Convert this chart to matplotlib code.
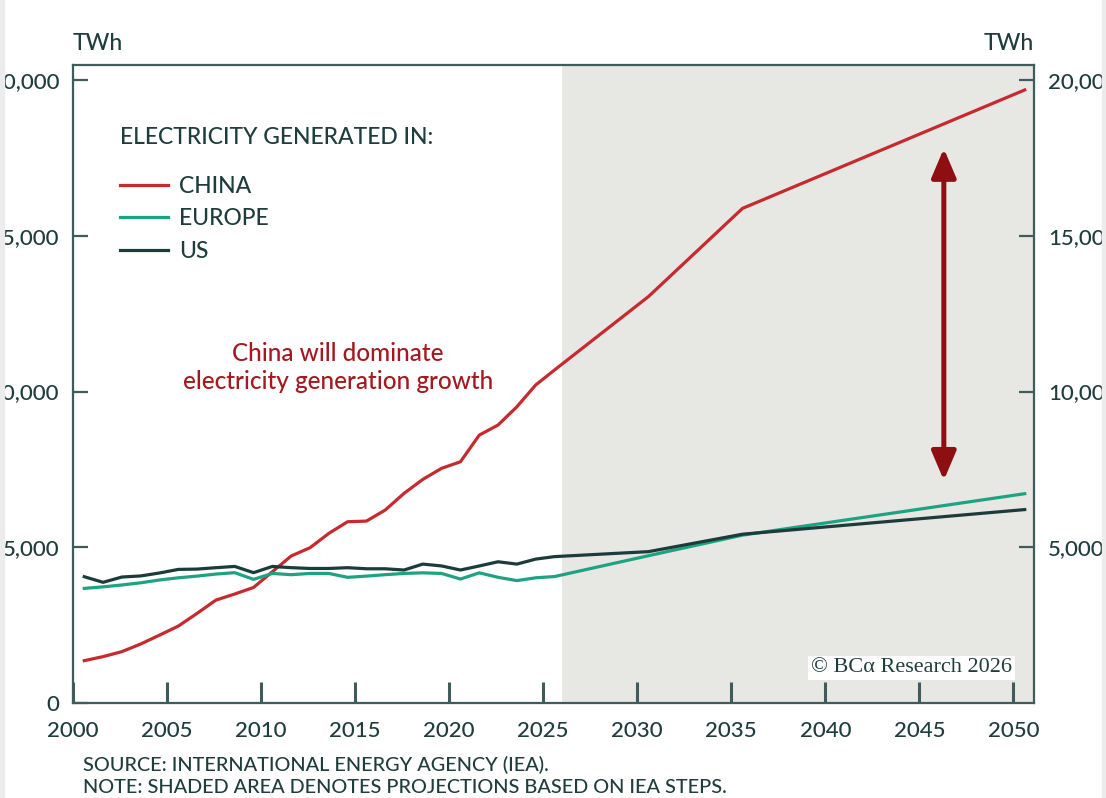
import matplotlib
matplotlib.use("Agg")
from matplotlib import pyplot as plt
from matplotlib.patches import Rectangle
from numpy import array

# %%
# electricity generation, TWh (history to 2025, IEA STEPS projections after)
years = [2000, 2001, 2002, 2003, 2004, 2005, 2006, 2007, 2008, 2009,
         2010, 2011, 2012, 2013, 2014, 2015, 2016, 2017, 2018, 2019,
         2020, 2021, 2022, 2023, 2024, 2025, 2030, 2035, 2050]
china = [1360, 1490, 1650, 1895, 2180, 2470, 2880, 3305, 3500, 3710,
         4215, 4720, 4985, 5445, 5820, 5840, 6195, 6730, 7180, 7535,
         7745, 8600, 8925, 9510, 10210, 10690, 13050, 15880, 19680]
europe = [3680, 3730, 3790, 3860, 3950, 4020, 4075, 4140, 4185, 3970,
          4160, 4120, 4160, 4160, 4035, 4075, 4120, 4160, 4180, 4160,
          3980, 4180, 4035, 3930, 4020, 4060, 4730, 5390, 6720]
us = [4055, 3875, 4045, 4080, 4175, 4290, 4300, 4345, 4385, 4185,
      4385, 4345, 4320, 4320, 4345, 4310, 4310, 4270, 4460, 4400,
      4270, 4400, 4535, 4460, 4620, 4700, 4860, 5420, 6210]

projection_start = 2026
gap_year = 2046.3
gap_low, gap_high = 7150, 17800

x_ticks = list(range(2000, 2051, 5))
y_ticks = [0, 5000, 10000, 15000, 20000]
y_labels = ["0", "5,000", "10,000", "15,000", "20,000"]
y_ticks_right = [5000, 10000, 15000, 20000]
y_labels_right = ["5,000", "10,000", "15,000", "20,000"]

RED = "#c62a2f"
GREEN = "#1ea382"
DARK = "#1c3b3b"
TEXT = "#1f3d3d"
SPINE = "#3f5b5b"
SHADE = "#e7e7e4"
MAROON = "#8e0f12"

plt.rcParams["font.family"] = ["Lato", "DejaVu Sans"]
plt.rcParams["font.weight"] = 500

# %%
fig = plt.figure(figsize=(11.06, 7.98), dpi=100)
ax = fig.add_axes([0.066, 0.119, 0.869, 0.7995])

x = array(years) + 0.6
ax.axvspan(projection_start, 2052, color=SHADE, lw=0, zorder=0)
ax.plot(x, china, color=RED, lw=2.3, label="CHINA")
ax.plot(x, europe, color=GREEN, lw=2.3, label="EUROPE")
ax.plot(x, us, color=DARK, lw=2.3, label="US")

ax.set_xlim(2000, 2051.1)
ax.set_ylim(0, 20480)
ax.set_xticks(x_ticks)
ax.set_yticks(y_ticks, y_labels)

for s in ax.spines.values():
    s.set_color(SPINE)
    s.set_linewidth(1.6)
ax.tick_params(axis="x", direction="in", length=15, width=2.2, color=SPINE,
               labelsize=16, labelcolor=TEXT, pad=13)
ax.tick_params(axis="y", direction="in", length=11, width=1.6, color=SPINE,
               labelsize=16, labelcolor=TEXT, pad=10)

ax2 = ax.twinx()
ax2.set_ylim(ax.get_ylim())
ax2.set_yticks(y_ticks_right, y_labels_right)
ax2.tick_params(axis="y", direction="in", length=11, width=1.6, color=SPINE,
                labelsize=16, labelcolor=TEXT, pad=10)
for s in ax2.spines.values():
    s.set_visible(False)

ax.text(0, 1.017, "TWh", transform=ax.transAxes, fontsize=16.5, color=TEXT,
        ha="left", va="bottom")
ax.text(1, 1.017, "TWh", transform=ax.transAxes, fontsize=16.5, color=TEXT,
        ha="right", va="bottom")

leg = ax.legend(loc="upper left", bbox_to_anchor=(0.027, 0.935), frameon=False,
                title="ELECTRICITY GENERATED IN:", fontsize=16.5,
                title_fontsize=16.5, handlelength=2.1, handletextpad=0.5,
                labelspacing=0.5, labelcolor=TEXT)
leg.get_title().set_color(TEXT)
leg._legend_box.align = "left"
leg._legend_box.sep = 20

ax.text(2014.1, 10770, "China will dominate\nelectricity generation growth",
        color="#a5181f", fontsize=17.5, ha="center", va="center",
        linespacing=1.3)

ax.annotate("", xy=(gap_year, gap_high), xytext=(gap_year, gap_low),
            arrowprops=dict(arrowstyle="<|-|>,head_length=0.8,head_width=0.34",
                            color=MAROON, lw=3.6, mutation_scale=22,
                            shrinkA=0, shrinkB=0))

ax.text(0.977, 0.055, "© BCα Research 2026", transform=ax.transAxes,
        family="Liberation Serif", fontsize=16, color=TEXT, ha="right",
        va="center", bbox=dict(facecolor="white", edgecolor="none", pad=2))

fig.text(0.075, 0.041, "SOURCE: INTERNATIONAL ENERGY AGENCY (IEA).",
         fontsize=14.3, color=TEXT, ha="left", va="center")
fig.text(0.075, 0.013, "NOTE: SHADED AREA DENOTES PROJECTIONS BASED ON IEA STEPS.",
         fontsize=14.3, color=TEXT, ha="left", va="center")

# page edges
fig.add_artist(Rectangle((0, 0), 0.0035, 1, transform=fig.transFigure,
                         color="#ececec", zorder=10))
fig.add_artist(Rectangle((0.9965, 0), 0.0035, 1, transform=fig.transFigure,
                         color="#ececec", zorder=10))

fig.savefig("out.png", dpi=100)
